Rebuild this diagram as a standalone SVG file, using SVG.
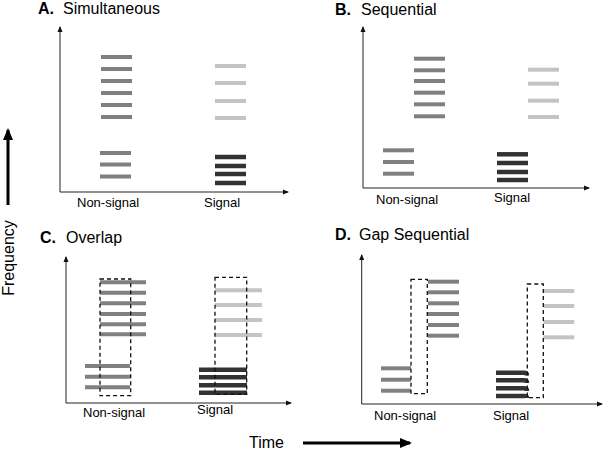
<svg xmlns="http://www.w3.org/2000/svg" width="604" height="451" viewBox="0 0 604 451">
<style>
text{font-family:"Liberation Sans",Arial,sans-serif;fill:#000}
.t{font-size:16px}
.b{font-weight:bold}
.l{font-size:13px}
.ax{stroke:#222;stroke-width:1;fill:none}
.m{stroke:#808080;stroke-width:4}
.lt{stroke:#c4c4c4;stroke-width:4}
.dk{stroke:#333;stroke-width:4.5}
.box{fill:none;stroke:#111;stroke-width:1.3;stroke-dasharray:4 3}
</style>
<defs>
<marker id="ah" markerWidth="6" markerHeight="6" refX="5" refY="3" orient="auto" markerUnits="userSpaceOnUse"><path d="M0,0.5 L6,3 L0,5.5 Z" fill="#111"/></marker>
<marker id="big" markerWidth="12" markerHeight="10" refX="10" refY="5" orient="auto" markerUnits="userSpaceOnUse"><path d="M0,0 L12,5 L0,10 Z" fill="#000"/></marker>
</defs>

<g id="frequency-axis">
<line x1="8" y1="205" x2="8" y2="130" stroke="#000" stroke-width="3" marker-end="url(#big)"/>
<text class="t" transform="translate(14,258) rotate(-90)" text-anchor="middle">Frequency</text>
</g>
<g id="time-axis">
<text class="t" x="249" y="448">Time</text>
<line x1="303" y1="443" x2="410" y2="443" stroke="#000" stroke-width="3" marker-end="url(#big)"/>
</g>

<g id="panelA">
<text class="t" x="38" y="14"><tspan class="b">A.</tspan><tspan x="63">Simultaneous</tspan></text>
<line class="ax" x1="60" y1="192" x2="60" y2="27" marker-end="url(#ah)"/>
<line class="ax" x1="60" y1="192" x2="288" y2="192" marker-end="url(#ah)"/>
<text class="l" x="77" y="207">Non-signal</text>
<text class="l" x="204" y="207">Signal</text>
<g class="m"><line x1="101" y1="57" x2="132" y2="57"/><line x1="101" y1="69" x2="132" y2="69"/><line x1="101" y1="81" x2="132" y2="81"/><line x1="101" y1="93" x2="132" y2="93"/><line x1="101" y1="105" x2="132" y2="105"/><line x1="101" y1="117" x2="132" y2="117"/>
<line x1="100" y1="153" x2="131" y2="153"/><line x1="100" y1="164.5" x2="131" y2="164.5"/><line x1="100" y1="176.5" x2="131" y2="176.5"/></g>
<g class="lt"><line x1="215" y1="66" x2="246" y2="66"/><line x1="215" y1="83" x2="246" y2="83"/><line x1="215" y1="101" x2="246" y2="101"/><line x1="215" y1="118" x2="246" y2="118"/></g>
<g class="dk"><line x1="215" y1="157" x2="246" y2="157"/><line x1="215" y1="166" x2="246" y2="166"/><line x1="215" y1="174" x2="246" y2="174"/><line x1="215" y1="183" x2="246" y2="183"/></g>
</g>

<g id="panelB">
<text class="t" x="335" y="15"><tspan class="b">B.</tspan><tspan x="361">Sequential</tspan></text>
<line class="ax" x1="363" y1="188" x2="363" y2="27" marker-end="url(#ah)"/>
<line class="ax" x1="363" y1="188" x2="589" y2="188" marker-end="url(#ah)"/>
<text class="l" x="376" y="204">Non-signal</text>
<text class="l" x="494" y="202">Signal</text>
<g class="m"><line x1="414" y1="58.7" x2="445" y2="58.7"/><line x1="414" y1="70.3" x2="445" y2="70.3"/><line x1="414" y1="81" x2="445" y2="81"/><line x1="414" y1="92.7" x2="445" y2="92.7"/><line x1="414" y1="104.3" x2="445" y2="104.3"/><line x1="414" y1="116.3" x2="445" y2="116.3"/>
<line x1="383" y1="150.3" x2="414" y2="150.3"/><line x1="383" y1="162" x2="414" y2="162"/><line x1="383" y1="173.7" x2="414" y2="173.7"/></g>
<g class="lt"><line x1="528" y1="69.7" x2="559" y2="69.7"/><line x1="528" y1="83.7" x2="559" y2="83.7"/><line x1="528" y1="100.7" x2="559" y2="100.7"/><line x1="528" y1="117" x2="559" y2="117"/></g>
<g class="dk"><line x1="497" y1="154.3" x2="528" y2="154.3"/><line x1="497" y1="163" x2="528" y2="163"/><line x1="497" y1="172" x2="528" y2="172"/><line x1="497" y1="180" x2="528" y2="180"/></g>
</g>

<g id="panelC">
<text class="t" x="40" y="243"><tspan class="b">C.</tspan><tspan x="66">Overlap</tspan></text>
<line class="ax" x1="66" y1="403" x2="66" y2="257" marker-end="url(#ah)"/>
<line class="ax" x1="66" y1="403" x2="291" y2="403" marker-end="url(#ah)"/>
<text class="l" x="83" y="417">Non-signal</text>
<text class="l" x="197" y="414">Signal</text>
<g class="m"><line x1="100" y1="282.3" x2="146" y2="282.3"/><line x1="100" y1="292.7" x2="146" y2="292.7"/><line x1="100" y1="303.3" x2="146" y2="303.3"/><line x1="100" y1="314" x2="146" y2="314"/><line x1="100" y1="324.3" x2="146" y2="324.3"/><line x1="100" y1="334.3" x2="146" y2="334.3"/>
<line x1="85" y1="366" x2="130" y2="366"/><line x1="85" y1="376.7" x2="130" y2="376.7"/><line x1="85" y1="387.3" x2="130" y2="387.3"/></g>
<g class="lt"><line x1="215" y1="290.3" x2="262" y2="290.3"/><line x1="215" y1="305" x2="262" y2="305"/><line x1="215" y1="320" x2="262" y2="320"/><line x1="215" y1="335" x2="262" y2="335"/></g>
<g class="dk"><line x1="199" y1="369.7" x2="247" y2="369.7"/><line x1="199" y1="377.3" x2="247" y2="377.3"/><line x1="199" y1="385.3" x2="247" y2="385.3"/><line x1="199" y1="392.7" x2="247" y2="392.7"/></g>
<rect class="box" x="100" y="279" width="30.7" height="116.7"/>
<rect class="box" x="215" y="277.3" width="31.7" height="117"/>
</g>

<g id="panelD">
<text class="t" x="335" y="240"><tspan class="b">D.</tspan><tspan x="359">Gap Sequential</tspan></text>
<line class="ax" x1="361.7" y1="404" x2="361.7" y2="255" marker-end="url(#ah)"/>
<line class="ax" x1="361.7" y1="404" x2="602" y2="404" marker-end="url(#ah)"/>
<text class="l" x="374" y="420">Non-signal</text>
<text class="l" x="493" y="420">Signal</text>
<g class="m"><line x1="381" y1="368.3" x2="411" y2="368.3"/><line x1="381" y1="379.7" x2="411" y2="379.7"/><line x1="381" y1="390.7" x2="411" y2="390.7"/>
<line x1="428" y1="281.7" x2="459" y2="281.7"/><line x1="428" y1="292.3" x2="459" y2="292.3"/><line x1="428" y1="303.3" x2="459" y2="303.3"/><line x1="428" y1="314" x2="459" y2="314"/><line x1="428" y1="325" x2="459" y2="325"/><line x1="428" y1="335.7" x2="459" y2="335.7"/></g>
<g class="lt"><line x1="543.3" y1="291" x2="574.3" y2="291"/><line x1="543.3" y1="306" x2="574.3" y2="306"/><line x1="543.3" y1="322" x2="574.3" y2="322"/><line x1="543.3" y1="337.3" x2="574.3" y2="337.3"/></g>
<g class="dk" fill="none"><path d="M496,372.7 H524 Q527,372.7 527,375.5"/><path d="M496,380.3 H524 Q527,380.3 527,383"/><path d="M496,388.3 H524 Q527,388.3 527,391"/><path d="M496,396 H524 Q527,396 527,398"/></g>
<rect class="box" x="411" y="279.3" width="16.3" height="114.4"/>
<rect class="box" x="527.3" y="284" width="16" height="113.7"/>
</g>
</svg>
